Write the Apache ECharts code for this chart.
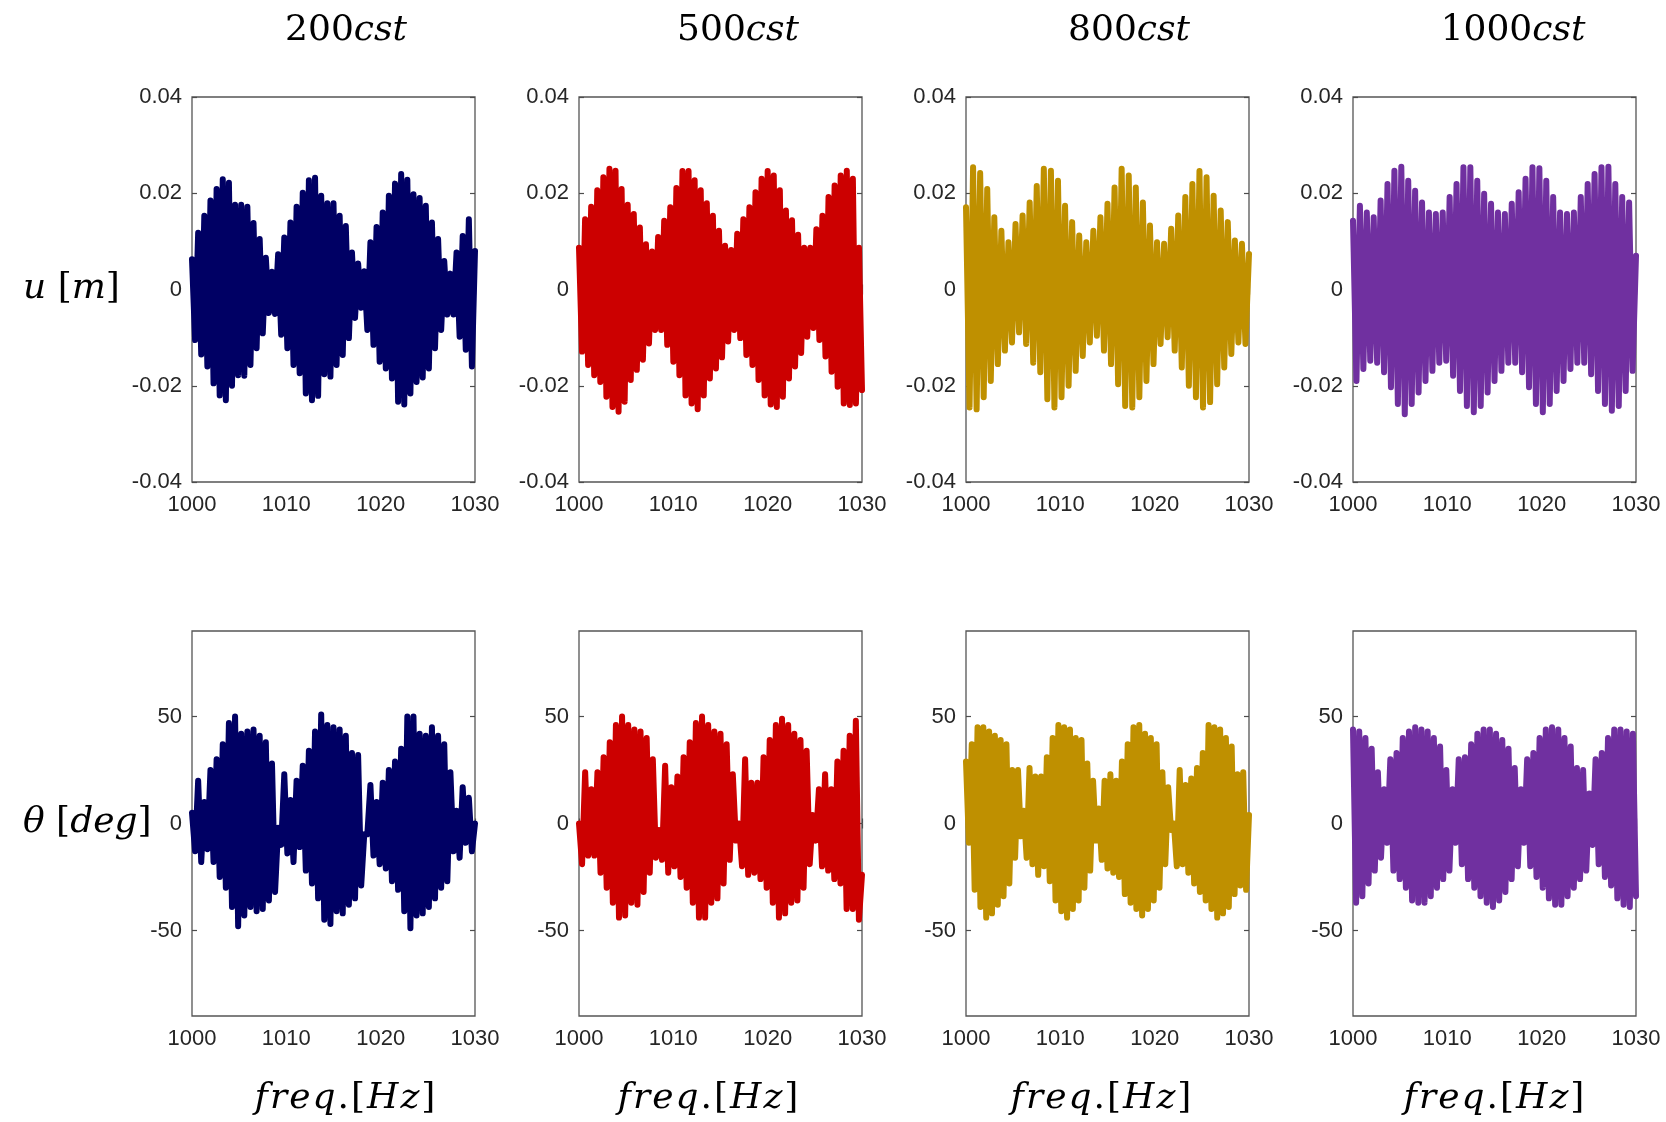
<!DOCTYPE html>
<html><head><meta charset="utf-8">
<script src="https://cdn.jsdelivr.net/npm/echarts@6/dist/echarts.min.js"></script>
<style>html,body{margin:0;padding:0;background:#fff}#c{width:1666px;height:1122px}</style>
</head><body><div id="c"></div>
<script>
// ---------- data ----------
const viscosities = ['200', '500', '800', '1000'];
const colors = ['#000064', '#CC0000', '#BF9000', '#7030A0'];
const freqTicks = [1000, 1010, 1020, 1030];
const uTicks = [-0.04, -0.02, 0, 0.02, 0.04];
const thetaTicks = [-50, 0, 50];

// displacement u [m]: alternating upper / lower peaks of the oscillation
const u200Upper = [0.0063,0.0118,0.0153,0.0185,0.0209,0.0229,0.0222,0.0176,0.0176,0.0172,0.0138,0.0105,0.0066,0.0037,0.0073,0.0108,0.0139,0.0172,0.0201,0.0227,0.0232,0.0195,0.0179,0.0179,0.0153,0.0132,0.0077,0.0054,0.0038,0.0098,0.0130,0.0160,0.0195,0.0220,0.0240,0.0228,0.0198,0.0190,0.0174,0.0139,0.0105,0.0059,0.0033,0.0077,0.0111,0.0146,0.0080];
const u200Lower = [-0.0105,-0.0135,-0.0160,-0.0195,-0.0220,-0.0230,-0.0200,-0.0178,-0.0179,-0.0157,-0.0122,-0.0091,-0.0049,-0.0051,-0.0094,-0.0122,-0.0157,-0.0174,-0.0216,-0.0230,-0.0221,-0.0176,-0.0181,-0.0157,-0.0136,-0.0101,-0.0059,-0.0038,-0.0084,-0.0115,-0.0150,-0.0164,-0.0185,-0.0233,-0.0239,-0.0216,-0.0192,-0.0183,-0.0164,-0.0122,-0.0084,-0.0052,-0.0052,-0.0098,-0.0125,-0.0160];

const u500Upper = [0.0087,0.0146,0.0172,0.0206,0.0233,0.0251,0.0247,0.0209,0.0176,0.0157,0.0129,0.0094,0.0079,0.0109,0.0143,0.0171,0.0211,0.0246,0.0246,0.0227,0.0206,0.0179,0.0153,0.0122,0.0091,0.0082,0.0116,0.0146,0.0171,0.0202,0.0230,0.0246,0.0237,0.0206,0.0164,0.0144,0.0114,0.0087,0.0087,0.0125,0.0153,0.0192,0.0216,0.0237,0.0247,0.0230,0.0087];
const u500Lower = [-0.0129,-0.0157,-0.0178,-0.0192,-0.0223,-0.0244,-0.0254,-0.0233,-0.0188,-0.0167,-0.0146,-0.0112,-0.0084,-0.0084,-0.0115,-0.0150,-0.0178,-0.0220,-0.0237,-0.0249,-0.0220,-0.0185,-0.0164,-0.0141,-0.0108,-0.0084,-0.0101,-0.0136,-0.0157,-0.0188,-0.0220,-0.0239,-0.0244,-0.0223,-0.0185,-0.0160,-0.0132,-0.0098,-0.0080,-0.0105,-0.0139,-0.0171,-0.0202,-0.0237,-0.0240,-0.0237,-0.0209];

const u800Upper = [0.0171,0.0254,0.0242,0.0209,0.0150,0.0122,0.0098,0.0136,0.0154,0.0181,0.0215,0.0251,0.0247,0.0226,0.0174,0.0140,0.0112,0.0098,0.0122,0.0150,0.0178,0.0212,0.0251,0.0237,0.0212,0.0181,0.0133,0.0098,0.0095,0.0126,0.0154,0.0192,0.0219,0.0246,0.0233,0.0195,0.0164,0.0140,0.0102,0.0095,0.0074];
const u800Lower = [-0.0245,-0.0249,-0.0224,-0.0190,-0.0155,-0.0127,-0.0110,-0.0089,-0.0113,-0.0152,-0.0172,-0.0228,-0.0245,-0.0224,-0.0200,-0.0169,-0.0138,-0.0110,-0.0096,-0.0127,-0.0155,-0.0197,-0.0242,-0.0245,-0.0224,-0.0190,-0.0155,-0.0113,-0.0099,-0.0127,-0.0162,-0.0200,-0.0224,-0.0245,-0.0234,-0.0197,-0.0162,-0.0134,-0.0110,-0.0113];

const u1000Upper = [0.0143,0.0174,0.0160,0.0150,0.0185,0.0219,0.0247,0.0255,0.0226,0.0205,0.0181,0.0160,0.0157,0.0160,0.0192,0.0219,0.0254,0.0254,0.0226,0.0199,0.0178,0.0160,0.0157,0.0178,0.0202,0.0230,0.0254,0.0252,0.0226,0.0192,0.0160,0.0157,0.0160,0.0192,0.0219,0.0240,0.0254,0.0255,0.0219,0.0192,0.0181,0.0070];
const u1000Lower = [-0.0190,-0.0165,-0.0148,-0.0152,-0.0172,-0.0203,-0.0238,-0.0259,-0.0238,-0.0214,-0.0190,-0.0169,-0.0152,-0.0148,-0.0179,-0.0211,-0.0242,-0.0255,-0.0242,-0.0214,-0.0190,-0.0169,-0.0152,-0.0152,-0.0172,-0.0203,-0.0238,-0.0255,-0.0238,-0.0211,-0.0190,-0.0165,-0.0152,-0.0152,-0.0176,-0.0211,-0.0238,-0.0252,-0.0242,-0.0211,-0.0169];

// rotation theta [deg]
const th200Upper = [5,20,10,25,30,37,47,50,42,43,44,41,38,28,-2,23,11,20,27,34,43,51,46,45,44,41,33,32,-5,18,10,19,25,29,35,50,50,42,41,45,41,37,24,6,17,12,0];
const th200Lower = [-13,-18,-12,-18,-25,-30,-39,-48,-43,-39,-41,-40,-36,-32,-10,-14,-18,-11,-22,-28,-35,-45,-47,-41,-42,-38,-35,-29,-5,-15,-19,-21,-27,-31,-41,-49,-43,-42,-39,-35,-30,-27,-13,-16,-9,-13];

const th500Upper = [0,24,16,24,31,38,46,50,46,44,43,40,30,-3,27,17,22,31,38,47,50,46,43,42,37,23,0,30,19,19,31,39,46,49,46,42,39,34,4,16,23,16,29,34,41,48,-24];
const th500Lower = [-19,-15,-15,-23,-30,-37,-44,-43,-37,-38,-32,-23,-16,-17,-23,-20,-25,-30,-37,-44,-44,-37,-35,-28,-17,-8,-20,-24,-23,-26,-30,-37,-44,-42,-37,-36,-30,-19,-8,-20,-22,-26,-28,-40,-40,-45];

const th800Upper = [29,37,45,45,43,41,39,37,25,25,6,26,22,22,31,40,46,45,44,40,39,28,20,7,20,23,20,29,37,45,46,42,40,37,24,17,0,25,18,21,26,33,46,45,44,40,36,23,24,4];
const th800Lower = [-9,-31,-39,-44,-42,-38,-34,-28,-16,-6,-16,-19,-24,-20,-27,-36,-41,-44,-40,-36,-30,-22,-8,-17,-21,-23,-25,-33,-37,-40,-43,-40,-36,-30,-19,-3,-20,-19,-23,-28,-32,-36,-40,-44,-42,-39,-33,-29,-31];

const th1000Upper = [44,43,40,35,24,16,30,33,40,43,45,44,43,40,36,25,16,30,31,37,42,44,44,42,39,35,26,16,30,33,40,44,45,44,40,36,26,25,14,30,33,40,44,44,43,42];
const th1000Lower = [-37,-34,-28,-22,-16,-9,-22,-26,-30,-36,-37,-37,-34,-30,-26,-22,-9,-19,-26,-30,-34,-37,-39,-36,-32,-26,-20,-9,-20,-25,-30,-35,-38,-38,-34,-30,-26,-22,-10,-19,-25,-29,-35,-38,-39,-34];

const freqMin = 1000, freqMax = 1030;

// ---------- build ----------
function zigzag(upper, lower) {
  const seq = [];
  const n = Math.max(upper.length, lower.length);
  for (let i = 0; i < n; i++) {
    if (i < upper.length) seq.push(upper[i]);
    if (i < lower.length) seq.push(lower[i]);
  }
  const m = seq.length;
  return seq.map((v, k) => [freqMin + k * (freqMax - freqMin) / (m - 1), v]);
}

const panels = [
  [u200Upper, u200Lower], [u500Upper, u500Lower], [u800Upper, u800Lower], [u1000Upper, u1000Lower],
  [th200Upper, th200Lower], [th500Upper, th500Lower], [th800Upper, th800Lower], [th1000Upper, th1000Lower]
];

const gridLefts = [192, 579, 966, 1353];
const gridTops = [97, 631];
const gridW = 283, gridH = 385;
const tickColor = '#4d4d4d';
const labelFont = { fontSize: 22, color: '#262626', fontFamily: 'Liberation Sans, Arial, sans-serif' };

const grid = [], xAxis = [], yAxis = [], series = [];
for (let r = 0; r < 2; r++) {
  for (let c = 0; c < 4; c++) {
    const g = r * 4 + c;
    grid.push({ left: gridLefts[c], top: gridTops[r], width: gridW, height: gridH,
      show: true, borderColor: '#555', borderWidth: 1.3, backgroundColor: 'transparent' });
    const xBase = { type: 'value', gridIndex: g, min: freqMin, max: freqMax, interval: 10,
      axisLine: { show: false }, splitLine: { show: false },
      axisTick: { inside: true, length: 5, lineStyle: { color: tickColor, width: 1.2 } } };
    xAxis.push(Object.assign({}, xBase, { position: 'bottom',
      axisLabel: Object.assign({ margin: 12, showMinLabel: true, showMaxLabel: true, formatter: v => String(v) }, labelFont) }));
    xAxis.push(Object.assign({}, xBase, { position: 'top', axisLabel: { show: false } }));
    let yBase;
    if (r === 0) {
      yBase = { type: 'value', gridIndex: g, min: uTicks[0], max: uTicks[uTicks.length - 1], interval: 0.02,
        axisLine: { show: false }, splitLine: { show: false },
        axisTick: { inside: true, length: 5, lineStyle: { color: tickColor, width: 1.2 } } };
      yAxis.push(Object.assign({}, yBase, { position: 'left',
        axisLabel: Object.assign({ margin: 10, formatter: v => (Math.abs(v) < 1e-9 ? '0' : String(+v.toFixed(2))) }, labelFont) }));
    } else {
      yBase = { type: 'value', gridIndex: g, min: -90, max: 90,
        axisLine: { show: false }, splitLine: { show: false },
        axisTick: { inside: true, length: 5, customValues: thetaTicks, lineStyle: { color: tickColor, width: 1.2 } } };
      yAxis.push(Object.assign({}, yBase, { position: 'left',
        axisLabel: Object.assign({ margin: 10, customValues: thetaTicks }, labelFont) }));
    }
    yAxis.push(Object.assign({}, yBase, { position: 'right', axisLabel: { show: false } }));
    const [up, lo] = panels[g];
    series.push({ type: 'line', xAxisIndex: 2 * g, yAxisIndex: 2 * g, data: zigzag(up, lo),
      showSymbol: false, symbol: 'none', silent: true, clip: true,
      lineStyle: { width: 6, color: colors[c], cap: 'round', join: 'round' } });
  }
}

const serif = 'DejaVu Serif, serif';
function richSet(size) {
  return {
    n: { fontFamily: serif, fontSize: size, color: '#000' },
    i: { fontFamily: serif, fontSize: size, fontStyle: 'italic', color: '#000' },
    j: { fontFamily: serif, fontSize: size, fontStyle: 'italic', color: '#000', padding: [0, 2, 0, 0] },
    m: { fontFamily: serif, fontSize: size, color: '#000', padding: [0, 2, 0, 0] }
  };
}
const titleX = [346, 738, 1129, 1513];
const nameX = [345, 708, 1101, 1494];
const graphic = [];
viscosities.forEach((v, c) => {
  graphic.push({ type: 'text', x: titleX[c], y: 31,
    style: { text: '{n|' + v + '}{i|cst}', rich: richSet(36), align: 'center', verticalAlign: 'middle' } });
  graphic.push({ type: 'text', x: nameX[c], y: 1099,
    style: { text: '{j|f}{j|r}{j|e}{j|q}{m|.}{m|[}{j|H}{j|z}{n|]}', rich: richSet(36), align: 'center', verticalAlign: 'middle' } });
});
graphic.push({ type: 'text', x: 23, y: 289,
  style: { text: '{i|u }{n|[}{i|m}{n|]}', rich: richSet(36), align: 'left', verticalAlign: 'middle' } });
graphic.push({ type: 'text', x: 23, y: 823,
  style: { text: '{i|θ }{n|[}{i|deg}{n|]}', rich: richSet(36), align: 'left', verticalAlign: 'middle' } });

const chart = echarts.init(document.getElementById('c'), null, { renderer: 'canvas' });
chart.setOption({ animation: false, backgroundColor: '#fff', grid, xAxis, yAxis, series, graphic });
</script></body></html>
